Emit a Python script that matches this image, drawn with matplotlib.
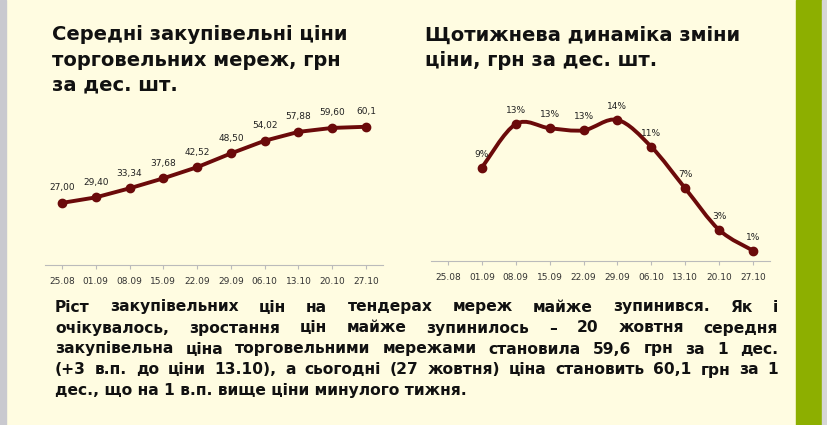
import matplotlib
matplotlib.use("Agg")
import matplotlib.pyplot as plt
import numpy as np
from matplotlib.path import Path
from matplotlib.patches import PathPatch, Rectangle

dates = ["25.08","01.09","08.09","15.09","22.09","29.09","06.10","13.10","20.10","27.10"]
prices = [27.00, 29.40, 33.34, 37.68, 42.52, 48.50, 54.02, 57.88, 59.60, 60.1]
price_labels = ["27,00","29,40","33,34","37,68","42,52","48,50","54,02","57,88","59,60","60,1"]
weekly_pct = [9, 13.2, 12.8, 12.6, 13.6, 11, 7, 3, 1]
weekly_labels = ["9%","13%","13%","13%","14%","11%","7%","3%","1%"]

W, H = 828, 425
BG = "#FFFCE1"
LINE = "#6B0A0A"
fig = plt.figure(figsize=(W/100, H/100), dpi=100)
fig.patch.set_facecolor(BG)
fig.patches.append(Rectangle((0, 0), 6/W, 1, transform=fig.transFigure, color="#C9C9CF", zorder=0))
fig.patches.append(Rectangle((796/W, 0), 26/W, 1, transform=fig.transFigure, color="#8DAF00", zorder=0))
fig.patches.append(Rectangle((822/W, 0), 6/W, 1, transform=fig.transFigure, color="#D6D6D6", zorder=0))

def ax_at(x0, x1, ytop, ybot):
    return fig.add_axes([x0/W, 1-ybot/H, (x1-x0)/W, (ybot-ytop)/H])

def style(ax):
    ax.set_facecolor("none")
    for s in ["top", "right", "left"]:
        ax.spines[s].set_visible(False)
    ax.spines["bottom"].set_color("#BBBBBB")
    ax.set_yticks([])
    ax.tick_params(axis="x", length=3, color="#BBBBBB", labelsize=6.5, pad=6, labelcolor="#333333")
    ax.set_xticks(range(len(dates)))
    ax.set_xticklabels(dates)
    ax.set_xlim(-0.5, len(dates)-0.5)

# left chart
slot = (366-62)/9
ax1 = ax_at(62-slot/2, 366+slot/2, 104, 265)
style(ax1)
ax1.set_ylim(0, 70)
x = np.arange(len(prices))
ax1.plot(x, prices, color=LINE, lw=2.8, marker="o", ms=6)
for xi, v, l in zip(x, prices, price_labels):
    ax1.annotate(l, (xi, v), xytext=(0, 9), textcoords="offset points", ha="center", fontsize=6.5, color="#222222")

# right chart (smoothed)
slot2 = (753-448)/9
ax2 = ax_at(448-slot2/2, 753+slot2/2, 95, 261)
style(ax2)
ax2.set_ylim(0, 16)
xs = np.arange(1, len(dates))
ys = np.array(weekly_pct, float)
pts = np.column_stack([xs, ys])
verts = [pts[0]]; codes = [Path.MOVETO]
for i in range(len(pts)-1):
    p0 = pts[max(i-1, 0)]; p1 = pts[i]; p2 = pts[i+1]; p3 = pts[min(i+2, len(pts)-1)]
    c1 = p1 + (p2-p0)/6; c2 = p2 - (p3-p1)/6
    verts += [c1, c2, p2]; codes += [Path.CURVE4]*3
ax2.add_patch(PathPatch(Path(verts, codes), fill=False, ec=LINE, lw=2.8))
ax2.plot(xs, ys, ls="none", marker="o", ms=6, color=LINE)
for xi, v, l in zip(xs, ys, weekly_labels):
    ax2.annotate(l, (xi, v), xytext=(0, 8), textcoords="offset points", ha="center", fontsize=6.5, color="#222222")

# titles
tk = dict(fontsize=14, fontweight="bold", color="#111111", va="center", family="DejaVu Sans")
for i, t in enumerate(["Середні закупівельні ціни", "торговельних мереж, грн", "за дес. шт."]):
    fig.text(52/W, 1-(35+25*i)/H, t, **tk)
for i, t in enumerate(["Щотижнева динаміка зміни", "ціни, грн за дес. шт."]):
    fig.text(425/W, 1-(35+25*i)/H, t, **tk)

# justified paragraph
lines = [
    "Ріст закупівельних цін на тендерах мереж майже зупинився. Як і",
    "очікувалось, зростання цін майже зупинилось – 20 жовтня середня",
    "закупівельна ціна торговельними мережами становила 59,6 грн за 1 дес.",
    "(+3 в.п. до ціни 13.10), а сьогодні (27 жовтня) ціна становить 60,1 грн за 1",
    "дес., що на 1 в.п. вище ціни минулого тижня.",
]
ys_px = [307, 328, 349, 370, 390]
pk = dict(fontsize=11.2, fontweight="bold", color="#111111", va="center", family="DejaVu Sans")
fig.canvas.draw()
r = fig.canvas.get_renderer()
L, R = 55, 778
for li, (ln, yp) in enumerate(zip(lines, ys_px)):
    words = ln.split(" ")
    if li == len(lines)-1:
        fig.text(L/W, 1-yp/H, ln, **pk)
        continue
    objs = [fig.text(0, 1-yp/H, w, **pk) for w in words]
    widths = [o.get_window_extent(r).width for o in objs]
    gap = (R-L-sum(widths))/(len(words)-1)
    xp = L
    for o, wd in zip(objs, widths):
        o.set_x(xp/W)
        xp += wd+gap

fig.savefig("out.png", dpi=100, facecolor=BG)
